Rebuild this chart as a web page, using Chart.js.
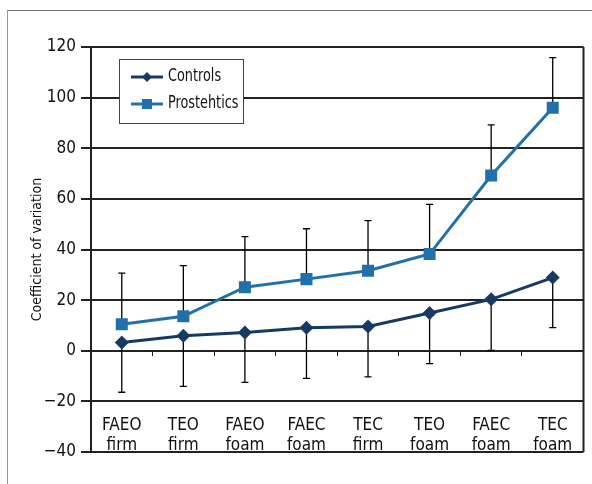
<!DOCTYPE html>
<html>
<head>
<meta charset="utf-8">
<script src="https://cdn.jsdelivr.net/npm/chart.js@4.4.1/dist/chart.umd.min.js"></script>
<style>
  html, body { margin: 0; padding: 0; background: #fff; }
  #wrap { position: relative; width: 592px; height: 484px; overflow: hidden; }
  #frame { position: absolute; left: 7px; top: 10px; width: 600px; height: 500px;
           border-top: 1.5px solid #777; border-left: 1.5px solid #999; }
  canvas { position: absolute; left: 0; top: 0; }
</style>
</head>
<body>
<div id="wrap">
  <div id="frame"></div>
  <canvas id="c" width="592" height="484"></canvas>
</div>
<script>
// ---- data ----
const categories = [
  ['FAEO', 'firm'], ['TEO', 'firm'], ['FAEO', 'foam'], ['FAEC', 'foam'],
  ['TEC', 'firm'], ['TEO', 'foam'], ['FAEC', 'foam'], ['TEC', 'foam']
];
const seriesNames = ['Controls', 'Prostehtics'];
const controls = [3.3, 5.9, 7.2, 9.1, 9.6, 14.9, 20.3, 28.9];
const controlsErr = [19.7, 20.0, 19.7, 20.0, 19.9, 20.0, 20.2, 19.8];
const prosthetics = [10.5, 13.6, 25.1, 28.3, 31.6, 38.2, 69.2, 96.0];
const prostheticsErr = [20.2, 20.0, 20.0, 19.9, 19.8, 19.6, 20.0, 19.8];
const yTicks = [-40, -20, 0, 20, 40, 60, 80, 100, 120];
const yTitle = 'Coefficient of variation';

const FONT = "'Liberation Sans Narrow', 'DejaVu Sans Condensed', 'Liberation Sans', sans-serif";
const C_CTRL = '#163a63';
const C_PROS = '#2170a9';
const INK = '#222';

const fmt = v => v < 0 ? '\u2212' + Math.abs(v) : String(v);

const errorBars = {
  id: 'errorBars',
  beforeDatasetsDraw(chart) {
    const ctx = chart.ctx, y = chart.scales.y;
    const a = chart.chartArea;
    // right border of plot area
    ctx.save();
    ctx.strokeStyle = INK; ctx.lineWidth = 2;
    ctx.beginPath(); ctx.moveTo(a.right, a.top); ctx.lineTo(a.right, a.bottom); ctx.stroke();
    ctx.strokeStyle = '#000'; ctx.lineWidth = 1.3;
    chart.data.datasets.forEach((ds, i) => {
      const meta = chart.getDatasetMeta(i);
      ds.data.forEach((v, j) => {
        const px = meta.data[j].x;
        const end = ds.errDir === 'minus' ? v - ds.err[j] : v + ds.err[j];
        const y0 = y.getPixelForValue(v), y1 = y.getPixelForValue(end);
        ctx.beginPath();
        ctx.moveTo(px, y0); ctx.lineTo(px, y1);
        ctx.moveTo(px - 3.5, y1); ctx.lineTo(px + 3.5, y1);
        ctx.stroke();
      });
    });
    ctx.restore();
  }
};

const boxLegend = {
  id: 'boxLegend',
  afterDatasetsDraw(chart) {
    const ctx = chart.ctx, a = chart.chartArea;
    const bx = a.left + 28, by = a.top + 12, bw = 124, bh = 64;
    ctx.save();
    ctx.fillStyle = '#fff';
    ctx.fillRect(bx, by, bw, bh);
    ctx.strokeStyle = '#444'; ctx.lineWidth = 1;
    ctx.strokeRect(bx + 0.5, by + 0.5, bw, bh);
    chart.data.datasets.forEach((ds, i) => {
      const ly = by + 18 + i * 27;
      ctx.strokeStyle = ds.borderColor; ctx.lineWidth = 3;
      ctx.beginPath(); ctx.moveTo(bx + 12, ly); ctx.lineTo(bx + 44, ly); ctx.stroke();
      ctx.fillStyle = ds.borderColor;
      const mx = bx + 28;
      ctx.beginPath();
      if (ds.pointStyle === 'rectRot') {
        ctx.moveTo(mx, ly - 5); ctx.lineTo(mx + 5, ly); ctx.lineTo(mx, ly + 5); ctx.lineTo(mx - 5, ly);
        ctx.closePath();
      } else {
        ctx.rect(mx - 5, ly - 5, 10, 10);
      }
      ctx.fill();
      ctx.fillStyle = '#111';
      ctx.font = '17px ' + FONT;
      ctx.textBaseline = 'middle'; ctx.textAlign = 'left';
      ctx.save();
      ctx.translate(bx + 49, ly);
      ctx.scale(0.84, 1);
      ctx.fillText(ds.label, 0, 0);
      ctx.restore();
    });
    ctx.restore();
  }
};

new Chart(document.getElementById('c'), {
  type: 'line',
  data: {
    labels: categories,
    datasets: [
      { label: seriesNames[0], data: controls, err: controlsErr, errDir: 'minus',
        borderColor: C_CTRL, backgroundColor: C_CTRL, borderWidth: 3,
        pointStyle: 'rectRot', pointRadius: 7, pointBorderWidth: 0,
        pointBackgroundColor: C_CTRL, tension: 0, xAxisID: 'x' },
      { label: seriesNames[1], data: prosthetics, err: prostheticsErr, errDir: 'plus',
        borderColor: C_PROS, backgroundColor: C_PROS, borderWidth: 3,
        pointStyle: 'rect', pointRadius: 8.5, pointBorderWidth: 0,
        pointBackgroundColor: C_PROS, tension: 0, xAxisID: 'x' }
    ]
  },
  options: {
    responsive: false,
    animation: false,
    devicePixelRatio: 1,
    layout: { padding: { left: 0, right: 7, top: 47, bottom: 32 } },
    plugins: { legend: { display: false }, tooltip: { enabled: false } },
    scales: {
      y: {
        min: -40, max: 120,
        afterBuildTicks: s => { s.ticks = yTicks.map(v => ({ value: v })); },
        afterFit: s => { s.width = 91; },
        grid: { color: INK, lineWidth: 2, tickLength: 10, drawTicks: true },
        border: { color: INK, width: 2 },
        ticks: { color: '#111', padding: 5, font: { family: FONT, size: 17 }, callback: v => fmt(v) },
        title: { display: true, text: yTitle, color: '#111',
                 font: { family: FONT, size: 14 }, padding: { top: 29, bottom: 0 } }
      },
      x: {
        type: 'category',
        offset: true,
        position: { y: -20 },
        grid: { display: false },
        border: { display: false },
        ticks: { color: '#111', padding: 6, maxRotation: 0, autoSkip: false,
                 font: { family: FONT, size: 17, lineHeight: 1.2 } }
      },
      x2: {
        type: 'category',
        offset: true,
        position: { y: 0 },
        grid: { offset: true, drawOnChartArea: false, drawTicks: true, tickLength: 5,
                color: INK, lineWidth: 1 },
        border: { display: false },
        ticks: { display: false }
      }
    }
  },
  plugins: [errorBars, boxLegend]
});
</script>
</body>
</html>
